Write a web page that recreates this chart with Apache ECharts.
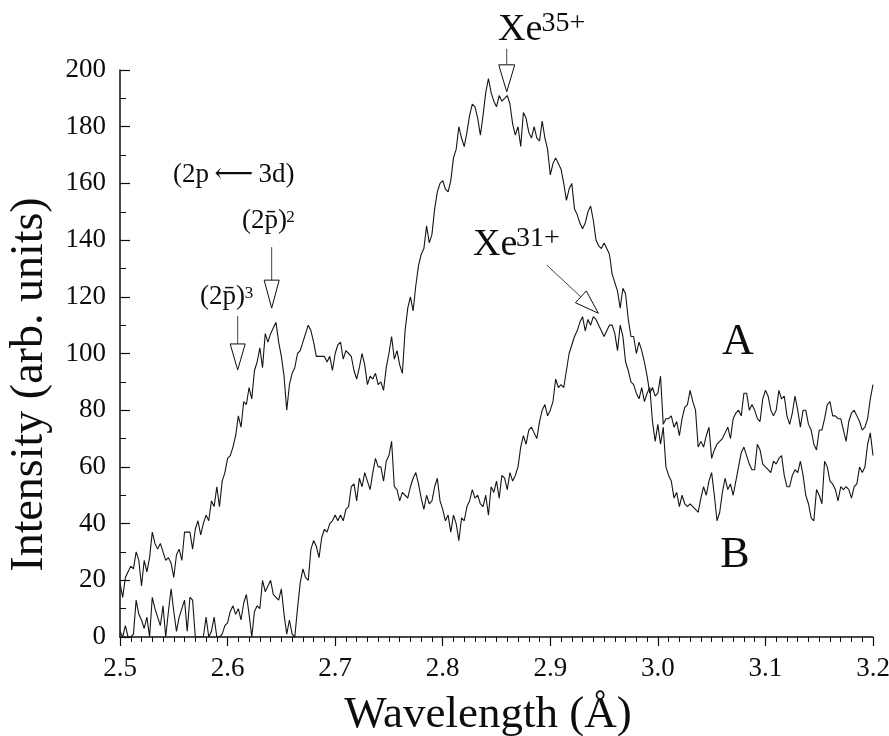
<!DOCTYPE html>
<html>
<head>
<meta charset="utf-8">
<title>Xe spectra</title>
<script src="https://cdn.jsdelivr.net/npm/echarts@6.0.0/dist/echarts.min.js"></script>
<style>
  html, body { margin: 0; padding: 0; background: #ffffff; }
  #chart { width: 889px; height: 736px; }
</style>
</head>
<body>
<div id="chart"></div>
<script>
// ---- sampling grid (wavelength, Å) ----
const xStart = 2.5;
const xStep = 0.0025;

// ---- spectrum A (arb. units) ----
const intensityA = [
  19,14,21,23,25,24,30,27,18,27,23,28,37,33,31,33,30,27,28,26,21,29,31,27,37,37,37,31,38,41,36,40,43,41,48,46,53,46,55,58,63,
  64,67,71,78,74,83,82,88,84,94, 97,102,95,107,104,107,109,111,104,99, 92,80,89,93,95,100,101,104,107,110, 108,104,99,99,99,99,97,99,94,100,
  103,104,98,101,100,99,94,91,95,100, 96,89,92,91,93,89,90,87,95,100, 106,98,101,96,93,108,116,120,115,124, 131,135,137,145,139,142,151,157,160,161,
  158,157,161,169,172,180,176,173,178,184, 188,187,183,177,184,192,197,192,189,187, 191,189,190,191,188,181,177,180,173,185, 183,178,176,180,176,175,182,176,172,163,
  167,169,167,165,160,154,158,160,151,149, 146,144,146,150,152,147,140,138,137,139, 137,135,128,125,122,116,123,121,112,106, 106,100,104,101,97,92,86,88,85,86,
  92,75,77,77,78,74,76,71,77,81, 82,87,83,80,67,69,67,71,74,63, 66,68,69,70,72,74,70,77,79,80, 78,86,86,80,82,80,77,76,84,87,
  85,80,78,80,87,84,85,78,75,79, 85,80,74,80,80,75,73,68,66,73, 73,77,82,83,78,78,77,77,73,69, 76,79,80,78,76,73,74,77,84,89
];

// ---- spectrum B (arb. units) ----
const intensityB = [
  2,0,4,0,0,1,13,8,6,3, 7,0,14,10,7,4,11,0,9,17, 9,2,7,10,13,2,14,13,0,0, 0,0,7,0,2,7,0,0,1,4, 5,
  9,11,8,10,6,12,15,8,0,9, 11,10,20,16,18,20,15,14,13,17, 8,1,6,1,0,10,19,24,21,20, 31,34,32,28,35,38,37,40,41,43,
  41,43,41,45,46,53,54,48,56,53, 58,55,52,58,63,60,60,55,62,64, 69,53,52,48,51,50,49,53,56,58, 54,49,45,50,47,48,53,56,48,45,
  41,43,37,43,40,34,42,41,46,48, 52,49,50,47,46,50,43,53,51,55, 49,57,56,52,58,55,57,60,67,71, 68,73,74,72,70,76,80,82,78,80,
  83,91,88,89,88,94,100,103,106,108, 111,113,108,112,110,113,112,110,108,106, 108,110,110,107,101,110,106,97,94,90, 89,86,84,88,83,86,88,76,69,75,
  68,74,60,57,55,49,51,46,50,47, 46,47,46,45,44,49,53,50,55,58, 50,41,44,51,56,52,54,50,55,60, 65,67,64,61,59,59,68,66,61,60,
  59,58,62,61,63,64,57,53,53,57, 59,58,62,57,50,47,42,41,52,50, 47,62,60,55,54,52,48,53,52,53, 52,49,53,54,60,58,60,68,72,64
];

// ---- axes ----
const xMin = 2.5, xMax = 3.2, xInterval = 0.1;
const yMin = 0, yMax = 200, yInterval = 20;
const xTitle = 'Wavelength (Å)';
const yTitle = 'Intensity (arb. units)';

// ---- annotations (data coordinates) ----
const curveLabels = [
  { text: 'A', at: [3.0745, 103.9] },
  { text: 'B', at: [3.0717, 28.6] }
];
const downArrows = [
  { tip: [2.8595, 192.3], head: 27, half: 8, stem: 16 },   // Xe35+
  { tip: [2.6410, 116.0], head: 28, half: 7.5, stem: 33 }, // (2p)^2
  { tip: [2.6094, 94.2], head: 26, half: 7.5, stem: 28 }   // (2p)^3
];
const slantArrows = [
  { from: [2.8967, 131.2], to: [2.9447, 114.2], head: 24, half: 8 } // Xe31+
];
const ionLabels = [
  { base: 'Xe', sup: '35+', baseAt: [2.8514, 214.1], supAt: [2.8918, 216.2] },
  { base: 'Xe', sup: '31+', baseAt: [2.8282, 138.3], supAt: [2.8681, 140.4] }
];
const transitionLabels = [
  { base: '(2p\u2009\u27F5\u20093d)', sup: '', baseAt: [2.5493, 163.1], supAt: null },
  { base: '(2p\u0304)', sup: '2', baseAt: [2.6134, 146.6], supAt: [2.6545, 147.8] },
  { base: '(2p\u0304)', sup: '3', baseAt: [2.5744, 119.8], supAt: [2.6160, 121.0] }
];

const SERIF = "'Liberation Serif', 'Times New Roman', 'DejaVu Serif', serif";
const INK = '#0d0d0d';

function pairs(arr) {
  return arr.map((v, i) => [+(xStart + i * xStep).toFixed(4), v]);
}

const chart = echarts.init(document.getElementById('chart'), null, { renderer: 'canvas' });

const option = {
  animation: false,
  backgroundColor: '#ffffff',
  grid: { left: 120, right: 16, top: 70, bottom: 99, containLabel: false, outerBoundsMode: 'none' },
  xAxis: {
    type: 'value', min: xMin, max: xMax, interval: xInterval,
    axisLine: { show: true, onZero: false, lineStyle: { color: INK, width: 1.5 } },
    axisTick: { show: true, inside: false, length: 9, lineStyle: { color: INK, width: 1.2 } },
    minorTick: { show: true, splitNumber: 10, length: 5, lineStyle: { color: INK, width: 1 } },
    splitLine: { show: false },
    axisLabel: { fontFamily: SERIF, fontSize: 27, color: INK, margin: 18,
                 formatter: v => v.toFixed(1) },
    name: xTitle, nameLocation: 'middle', nameGap: 56,
    nameTextStyle: { fontFamily: SERIF, fontSize: 45, color: INK, padding: [0, 17, 0, 0] }
  },
  yAxis: {
    type: 'value', min: yMin, max: yMax, interval: yInterval,
    axisLine: { show: true, onZero: false, lineStyle: { color: INK, width: 1.5 } },
    axisTick: { show: true, inside: true, length: 10, lineStyle: { color: INK, width: 1.2 } },
    minorTick: { show: true, splitNumber: 2, length: 6, lineStyle: { color: INK, width: 1 } },
    splitLine: { show: false },
    axisLabel: { fontFamily: SERIF, fontSize: 27, color: INK, margin: 14 },
    name: yTitle, nameLocation: 'middle', nameGap: 67,
    nameTextStyle: { fontFamily: SERIF, fontSize: 46, color: INK, padding: [0, 62, 0, 0] }
  },
  series: [
    { name: 'A', type: 'line', data: pairs(intensityA), showSymbol: false, symbol: 'none',
      lineStyle: { color: '#151515', width: 1.1 }, clip: true, z: 3 },
    { name: 'B', type: 'line', data: pairs(intensityB), showSymbol: false, symbol: 'none',
      lineStyle: { color: '#151515', width: 1.1 }, clip: true, z: 3 }
  ]
};
chart.setOption(option);

// ---- annotations placed through the chart's own coordinate system ----
function px(pt) { return chart.convertToPixel({ xAxisIndex: 0, yAxisIndex: 0 }, pt); }
function textEl(str, at, size, align) {
  const p = px(at);
  return { type: 'text', z: 10, style: {
    text: str, x: p[0], y: p[1], fill: INK,
    font: 'normal ' + size + 'px ' + SERIF,
    textAlign: align, textVerticalAlign: 'middle', align: align, verticalAlign: 'middle'
  } };
}
const g = [];
downArrows.forEach(a => {
  const t = px(a.tip);
  g.push({ type: 'line', z: 10, shape: { x1: t[0], y1: t[1] - a.head - a.stem, x2: t[0], y2: t[1] - a.head },
           style: { stroke: '#444', lineWidth: 1 } });
  g.push({ type: 'polygon', z: 10, shape: { points: [[t[0] - a.half, t[1] - a.head], [t[0] + a.half, t[1] - a.head], [t[0], t[1]]] },
           style: { fill: '#ffffff', stroke: INK, lineWidth: 1 } });
});
slantArrows.forEach(a => {
  const s = px(a.from), e = px(a.to);
  const dx = e[0] - s[0], dy = e[1] - s[1], L = Math.hypot(dx, dy);
  const ux = dx / L, uy = dy / L, nx = -uy, ny = ux;
  const bx = e[0] - ux * a.head, by = e[1] - uy * a.head;
  g.push({ type: 'line', z: 10, shape: { x1: s[0], y1: s[1], x2: bx, y2: by }, style: { stroke: '#444', lineWidth: 1 } });
  g.push({ type: 'polygon', z: 10, shape: { points: [[bx + nx * a.half, by + ny * a.half], [bx - nx * a.half, by - ny * a.half], [e[0], e[1]]] },
           style: { fill: '#ffffff', stroke: INK, lineWidth: 1 } });
});
ionLabels.forEach(l => {
  g.push(textEl(l.base, l.baseAt, 38, 'left'));
  g.push(textEl(l.sup, l.supAt, 28, 'left'));
});
transitionLabels.forEach(l => {
  g.push(textEl(l.base, l.baseAt, 27, 'left'));
  if (l.sup) g.push(textEl(l.sup, l.supAt, 17, 'left'));
});
curveLabels.forEach(l => g.push(textEl(l.text, l.at, 44, 'center')));
chart.setOption({ graphic: { elements: g } });
</script>
</body>
</html>
